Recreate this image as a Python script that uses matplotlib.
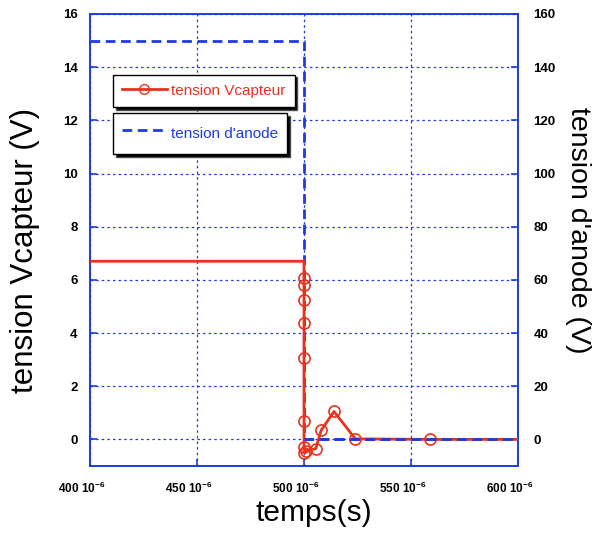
import matplotlib
matplotlib.use("Agg")
import matplotlib.pyplot as plt
import matplotlib.transforms as mtransforms
from matplotlib.ticker import FuncFormatter, FixedLocator
from matplotlib.lines import Line2D

plt.rcParams['font.family'] = ['Liberation Sans', 'DejaVu Sans']
plt.rcParams['mathtext.fontset'] = 'custom'
plt.rcParams['mathtext.rm'] = 'Liberation Sans'
plt.rcParams['mathtext.bf'] = 'Liberation Sans:bold'

# data (time in microseconds, converted to seconds)
t_capteur_us = [400, 500, 500, 500, 500, 500, 500, 500, 500, 500, 501, 505.5, 508, 514, 524, 559, 600]
v_capteur = [6.7, 6.7, 6.06, 5.8, 5.23, 4.37, 3.05, 0.68, -0.3, -0.5, -0.42, -0.35, 0.34, 1.05, 0.02, 0.0, 0.0]
t_anode_us = [400, 500, 500, 600]
v_anode = [150, 150, 0, 0]
x_ticks_us = [400, 450, 500, 550, 600]
y_left_ticks = [0, 2, 4, 6, 8, 10, 12, 14, 16]
y_right_ticks = [0, 20, 40, 60, 80, 100, 120, 140, 160]

t_capteur = [t * 1e-6 for t in t_capteur_us]
t_anode = [t * 1e-6 for t in t_anode_us]
x_ticks = [t * 1e-6 for t in x_ticks_us]

RED = '#e8321e'
BLUE = '#1e3ae6'

fig = plt.figure(figsize=(5.94, 5.35), dpi=100)
ax = fig.add_axes([90/594, 69/535, 428/594, 452/535])
ax2 = ax.twinx()

ax.set_xlim(400e-6, 600e-6)
ax.set_ylim(-1, 16)
ax2.set_ylim(-10, 160)

ax.xaxis.set_major_locator(FixedLocator(x_ticks))
ax.set_yticks(y_left_ticks)
ax2.set_yticks(y_right_ticks)

ax.xaxis.set_major_formatter(FuncFormatter(
    lambda x, p: r"$\mathbf{%d\ 10^{-6}}$" % int(round(x * 1e6))))

ax.grid(True, color=BLUE, linestyle=(0, (2, 2.5)), linewidth=0.9)
for a in (ax, ax2):
    for s in a.spines.values():
        s.set_color(BLUE)
        s.set_linewidth(1.2)
ax.tick_params(axis='both', direction='in', length=5, color=BLUE, width=1.2)
ax.tick_params(axis='y', labelsize=9.5, pad=9)
ax.tick_params(axis='x', labelsize=8.5, pad=11)
ax2.tick_params(axis='y', direction='in', length=5, color=BLUE, labelsize=9.5, width=1.2, pad=11)
for lab in ax.get_yticklabels() + ax2.get_yticklabels():
    lab.set_fontweight('bold')
shift = mtransforms.ScaledTranslation(-8/100, 0, fig.dpi_scale_trans)
for lab in ax.get_xticklabels():
    lab.set_transform(lab.get_transform() + shift)

ax2.plot(t_anode, v_anode, color=BLUE, linestyle=(0, (3.5, 2)), linewidth=2, zorder=2)
ax2.set_zorder(ax.get_zorder() + 1)
ax.patch.set_visible(True)
ax2.patch.set_visible(False)
ax2.plot(t_capteur, [v * 10 for v in v_capteur], color=RED, linewidth=2,
         marker='o', markersize=8, markerfacecolor='none', markeredgecolor=RED,
         markeredgewidth=1.2, markevery=list(range(2, 16)), zorder=3)
# anode dashes drawn again above the red line where they overlap
ax2.plot(t_anode[2:], v_anode[2:], color=BLUE, linestyle=(0, (3.5, 2)), linewidth=2, zorder=4)

ax.set_xlabel('temps(s)', fontsize=21.5, va='center', ha='center')
ax.xaxis.set_label_coords(0.523, -0.104)
ax.set_ylabel('tension Vcapteur (V)', fontsize=22.5, va='center', ha='center')
ax.yaxis.set_label_coords(-0.152, 0.476)
ax2.set_ylabel("tension d'anode (V)", fontsize=20.5, rotation=270, va='center', ha='center')
ax2.yaxis.set_label_coords(1.14, 0.521)

h1 = Line2D([], [], color=RED, linewidth=2, marker='o', markersize=7,
            markerfacecolor='none', markeredgecolor=RED)
h2 = Line2D([], [], color=BLUE, linewidth=2, linestyle=(0, (3.5, 2)))
shadow = {'facecolor': 'black', 'alpha': 1.0}
common = dict(loc='upper left', frameon=True, fancybox=False, shadow=shadow,
              edgecolor='black', framealpha=1, fontsize=11, handlelength=2.9,
              handletextpad=0.3, borderaxespad=0, borderpad=0.6)
leg1 = ax2.legend([h1], ['tension Vcapteur'], bbox_to_anchor=(0.054, 0.866), **common)
for t in leg1.get_texts():
    t.set_color(RED)
leg1.get_frame().set_linewidth(1.0)
ax2.add_artist(leg1)
leg2 = ax2.legend([h2], ["tension d'anode"], bbox_to_anchor=(0.054, 0.781),
                  handleheight=1.9, **common)
for t in leg2.get_texts():
    t.set_color(BLUE)
leg2.get_frame().set_linewidth(1.0)

fig.savefig('out.png', dpi=100)
